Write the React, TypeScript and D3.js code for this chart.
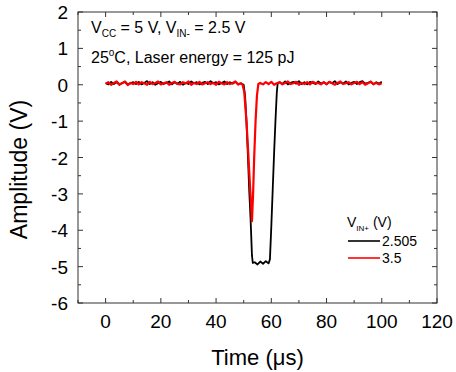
import React from 'react';
import * as d3 from 'd3';

// time axis (µs) and amplitude (V) of the two traces
const blackTime = [
  0, 1, 2, 3, 4, 5, 6, 7, 8, 9, 10, 11, 12, 13, 14, 15, 16, 17, 18, 19,
  20, 21, 22, 23, 24, 25, 26, 27, 28, 29, 30, 31, 32, 33, 34, 35, 36, 37, 38, 39,
  40, 41, 42, 43, 44, 45, 46, 47, 48, 49, 50, 50.5, 51, 51.5, 52, 52.5, 53, 53.3,
  54, 55, 56, 57, 58, 59, 59.5, 60, 60.5, 61, 61.5, 62, 62.3,
  63, 64, 65, 66, 67, 68, 69, 70, 71, 72, 73, 74, 75, 76, 77, 78, 79, 80,
  81, 82, 83, 84, 85, 86, 87, 88, 89, 90, 91, 92, 93, 94, 95, 96, 97, 98, 99, 100,
];
const blackValues = [
  0.05, 0.01, 0.08, 0.02, 0.07, 0.0, 0.05, 0.09, 0.01, 0.04, 0.07, 0.02, 0.08, 0.01, 0.05, 0.1, 0.02, 0.07, 0.0, 0.04,
  0.08, 0.02, 0.05, 0.09, 0.01, 0.07, 0.03, 0.08, 0.0, 0.05, 0.02, 0.09, 0.04, 0.07, 0.01, 0.05, 0.08, 0.02, 0.1, 0.04,
  0.07, 0.01, 0.05, 0.09, 0.02, 0.07, 0.03, 0.08, 0.01, 0.04, 0.0, -0.3, -1.0, -1.9, -2.9, -3.7, -4.7, -4.9,
  -4.88, -4.94, -4.86, -4.92, -4.85, -4.91, -4.8, -3.9, -2.9, -1.9, -1.0, -0.2, 0.04,
  0.07, 0.02, 0.09, 0.01, 0.05, 0.08, 0.03, 0.1, 0.02, 0.07, 0.01, 0.08, 0.05, 0.02, 0.09, 0.03, 0.07, 0.01,
  0.08, 0.04, 0.1, 0.02, 0.07, 0.03, 0.09, 0.01, 0.05, 0.08, 0.02, 0.07, 0.1, 0.03, 0.05, 0.09, 0.01, 0.07, 0.03, 0.08,
];

const redTime = [
  0, 1, 2, 3, 4, 5, 6, 7, 8, 9, 10, 11, 12, 13, 14, 15, 16, 17, 18, 19,
  20, 21, 22, 23, 24, 25, 26, 27, 28, 29, 30, 31, 32, 33, 34, 35, 36, 37, 38, 39,
  40, 41, 42, 43, 44, 45, 46, 47, 48, 49, 49.6, 50.2, 51, 51.6, 52.3, 53, 53.4, 53.8, 54.3, 54.8, 55.3,
  56, 57, 58, 59, 60, 61, 62, 63, 64, 65, 66, 67, 68, 69, 70, 71, 72, 73, 74, 75, 76, 77, 78,
  79, 80, 81, 82, 83, 84, 85, 86, 87, 88, 89, 90, 91, 92, 93, 94, 95, 96, 97, 98, 99, 100,
];
const redValues = [
  0.03, 0.07, 0.0, 0.05, 0.09, 0.01, 0.04, 0.08, -0.01, 0.05, 0.02, 0.08, 0.01, 0.07, 0.04, 0.0, 0.08, 0.02, 0.05, 0.09,
  0.01, 0.04, 0.07, 0.0, 0.05, 0.08, 0.02, 0.01, 0.07, 0.04, 0.09, 0.0, 0.05, 0.02, 0.08, 0.01, 0.04, 0.07, 0.02, 0.05,
  0.0, 0.08, 0.04, 0.01, 0.07, 0.02, 0.05, 0.09, 0.01, 0.04, 0.0, -0.2, -1.0, -1.8, -2.8, -3.75, -3.0, -2.0, -1.0, -0.3, 0.02,
  0.05, 0.01, 0.07, 0.02, 0.08, 0.0, 0.04, 0.07, 0.01, 0.05, 0.09, 0.02, 0.04, 0.08, 0.0, 0.05, 0.02, 0.07, 0.01, 0.08, 0.04, 0.05, 0.01,
  0.07, 0.02, 0.08, 0.04, 0.0, 0.05, 0.09, 0.02, 0.04, 0.07, 0.01, 0.05, 0.08, 0.02, 0.07, 0.0, 0.04, 0.08, 0.02, 0.05, 0.01, 0.04,
];

const xTicks = [0, 20, 40, 60, 80, 100, 120];
const xMinorTicks = [-10, 10, 30, 50, 70, 90, 110];
const yTicks = [2, 1, 0, -1, -2, -3, -4, -5, -6];
const yMinorTicks = [1.5, 0.5, -0.5, -1.5, -2.5, -3.5, -4.5, -5.5];

const seriesNames = ['2.505', '3.5'];
const seriesColors = ['#000000', '#ff0000'];

const W = 456;
const H = 372;
const margin = { top: 12, right: 19, bottom: 69, left: 78 };
const font = 'Arial, "Liberation Sans", sans-serif';

export default function App() {
  const x = d3.scaleLinear().domain([-10, 120]).range([margin.left, W - margin.right]);
  const y = d3.scaleLinear().domain([-6, 2]).range([H - margin.bottom, margin.top]);

  const line = d3.line<[number, number]>()
    .x(d => x(d[0]))
    .y(d => y(d[1]));

  const blackPts = blackTime.map((t, i) => [t, blackValues[i]] as [number, number]);
  const redPts = redTime.map((t, i) => [t, redValues[i]] as [number, number]);

  const [x0, x1] = x.range();
  const [y0, y1] = y.range();
  const major = 5;
  const minor = 3;

  return (
    <svg width={W} height={H} style={{ position: 'absolute', left: 0, top: 0, background: '#fff' }}>
      <g fontFamily={font} fill="#000">
        {/* traces */}
        <path d={line(blackPts) ?? ''} fill="none" stroke={seriesColors[0]} strokeWidth={1.8} strokeLinejoin="round" />
        <path d={line(redPts) ?? ''} fill="none" stroke={seriesColors[1]} strokeWidth={2.2} strokeLinejoin="round" />

        {/* frame */}
        <rect x={x0} y={y1} width={x1 - x0} height={y0 - y1} fill="none" stroke="#333" strokeWidth={1} />

        {/* x ticks, bottom and top, inward */}
        {xTicks.map(t => (
          <g key={'xt' + t}>
            <line x1={x(t)} x2={x(t)} y1={y0} y2={y0 - major} stroke="#333" />
            <line x1={x(t)} x2={x(t)} y1={y1} y2={y1 + major} stroke="#333" />
            <text x={x(t)} y={y0 + 25} fontSize={19} textAnchor="middle">{t}</text>
          </g>
        ))}
        {xMinorTicks.map(t => (
          <g key={'xm' + t}>
            <line x1={x(t)} x2={x(t)} y1={y0} y2={y0 - minor} stroke="#333" />
            <line x1={x(t)} x2={x(t)} y1={y1} y2={y1 + minor} stroke="#333" />
          </g>
        ))}

        {/* y ticks, left and right, inward */}
        {yTicks.map(t => (
          <g key={'yt' + t}>
            <line x1={x0} x2={x0 + major} y1={y(t)} y2={y(t)} stroke="#333" />
            <line x1={x1} x2={x1 - major} y1={y(t)} y2={y(t)} stroke="#333" />
            <text x={x0 - 10} y={y(t) + 7} fontSize={19} textAnchor="end">{t}</text>
          </g>
        ))}
        {yMinorTicks.map(t => (
          <g key={'ym' + t}>
            <line x1={x0} x2={x0 + minor} y1={y(t)} y2={y(t)} stroke="#333" />
            <line x1={x1} x2={x1 - minor} y1={y(t)} y2={y(t)} stroke="#333" />
          </g>
        ))}

        {/* axis titles */}
        <text x={(x0 + x1) / 2} y={365} fontSize={22} textAnchor="middle">Time (μs)</text>
        <text transform={`translate(27,${(y0 + y1) / 2 + 12}) rotate(-90)`} fontSize={23} textAnchor="middle">Amplitude (V)</text>

        {/* conditions */}
        <text x={91} y={33} fontSize={16}>
          V<tspan fontSize={10} dy={4}>CC</tspan>
          <tspan dy={-4}> = 5 V, V</tspan>
          <tspan fontSize={10} dy={4}>IN-</tspan>
          <tspan dy={-4}> = 2.5 V</tspan>
        </text>
        <text x={91} y={63} fontSize={16}>
          25<tspan fontSize={10} dy={-7}>o</tspan>
          <tspan dy={7}>C, Laser energy = 125 pJ</tspan>
        </text>

        {/* legend */}
        <text x={347} y={227} fontSize={14}>
          V<tspan fontSize={8} dy={4}>IN+</tspan>
          <tspan dy={-4}> (V)</tspan>
        </text>
        {seriesNames.map((name, i) => (
          <g key={name} transform={`translate(348,${241 + i * 17})`}>
            <line x1={0} x2={32} y1={0} y2={0} stroke={seriesColors[i]} strokeWidth={1.6} />
            <text x={34} y={5} fontSize={14}>{name}</text>
          </g>
        ))}
      </g>
    </svg>
  );
}
